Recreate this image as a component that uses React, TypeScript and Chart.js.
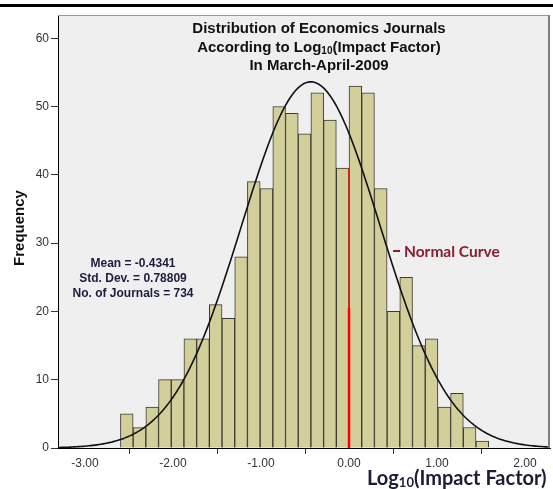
import React, { useEffect, useRef } from 'react';
import { Chart, registerables } from 'chart.js';

Chart.register(...registerables);

// ---- data ----
const FREQUENCIES = [5, 3, 6, 10, 10, 16, 16, 21, 19, 28, 39, 38, 50, 49, 46, 52, 48, 41, 53, 52, 38, 20, 25, 15, 16, 6, 8, 3, 1];
const BIN_WIDTH = 0.1443;
const FIRST_BIN_INDEX = -18; // bins are aligned so that an edge falls on 0
const MEAN = -0.4341;
const STD_DEV = 0.78809;
const N_JOURNALS = 734;
const X_TICKS = [-3, -2, -1, 0, 1, 2];
const Y_TICKS = [0, 10, 20, 30, 40, 50, 60];
const X_MIN = -3.307;
const X_MAX = 2.284;
const Y_MAX = 63.4;
const ZERO_LINE_FULL = 41;
const ZERO_LINE_STRONG = 20.5;
const TITLE_LINES = ['Distribution of Economics Journals', 'According to Log|10|(Impact Factor)', 'In March-April-2009'];
const STATS_LINES = ['Mean = -0.4341', 'Std. Dev. = 0.78809', `No. of Journals = ${N_JOURNALS}`];
const Y_TITLE = 'Frequency';
const X_TITLE = 'Log|10|(Impact Factor)';
const CURVE_LABEL = 'Normal Curve';

const W = 553;
const H = 489;

function drawRich(ctx: CanvasRenderingContext2D, text: string, x: number, y: number, font: string, subFont: string, subDy: number, align: 'center' | 'left') {
  const parts = text.split('|');
  const segs = parts.map((t, i) => ({ t, sub: i % 2 === 1 }));
  let total = 0;
  for (const s of segs) {
    ctx.font = s.sub ? subFont : font;
    total += ctx.measureText(s.t).width;
  }
  let cx = align === 'center' ? x - total / 2 : x;
  ctx.textAlign = 'left';
  ctx.textBaseline = 'alphabetic';
  for (const s of segs) {
    ctx.font = s.sub ? subFont : font;
    ctx.fillText(s.t, cx, s.sub ? y + subDy : y);
    cx += ctx.measureText(s.t).width;
  }
}

export default function App() {
  const ref = useRef<HTMLCanvasElement | null>(null);

  useEffect(() => {
    const canvas = ref.current;
    if (!canvas) return;

    const bars = FREQUENCIES.map((f, i) => ({ x: (FIRST_BIN_INDEX + i + 0.5) * BIN_WIDTH, y: f }));
    const peak = (N_JOURNALS * BIN_WIDTH) / (STD_DEV * Math.sqrt(2 * Math.PI));
    const curve: { x: number; y: number }[] = [];
    const steps = 240;
    for (let i = 0; i <= steps; i++) {
      const x = X_MIN + ((X_MAX - X_MIN) * i) / steps;
      const z = (x - MEAN) / STD_DEV;
      curve.push({ x, y: peak * Math.exp(-0.5 * z * z) });
    }

    const decor = {
      id: 'decor',
      beforeDraw(chart: any) {
        const ctx = chart.ctx as CanvasRenderingContext2D;
        const a = chart.chartArea;
        ctx.save();
        ctx.fillStyle = '#ffffff';
        ctx.fillRect(0, 0, W, H);
        ctx.fillStyle = '#efefef';
        ctx.fillRect(a.left, a.top, a.right - a.left, a.bottom - a.top);
        ctx.fillStyle = '#000000';
        ctx.fillRect(0, 4, W, 3);
        ctx.restore();
      },
      afterDraw(chart: any) {
        const ctx = chart.ctx as CanvasRenderingContext2D;
        const a = chart.chartArea;
        ctx.save();
        // frame top/right
        ctx.strokeStyle = '#9a9a9a';
        ctx.lineWidth = 1;
        ctx.beginPath();
        ctx.moveTo(a.left, a.top + 0.5);
        ctx.lineTo(a.right, a.top + 0.5);
        ctx.stroke();
        ctx.strokeStyle = '#808080';
        ctx.lineWidth = 2;
        ctx.beginPath();
        ctx.moveTo(a.right - 1, a.top);
        ctx.lineTo(a.right - 1, a.bottom);
        ctx.stroke();

        // title
        ctx.fillStyle = '#111111';
        const tx = (a.left + a.right) / 2 + 15;
        TITLE_LINES.forEach((line, i) => {
          drawRich(ctx, line, tx, 33 + i * 18.5, 'bold 15px "Liberation Sans", Arial, sans-serif', 'bold 10px "Liberation Sans", Arial, sans-serif', 2, 'center');
        });

        // stats
        ctx.fillStyle = '#1c1c40';
        STATS_LINES.forEach((line, i) => {
          drawRich(ctx, line, 133, 267 + i * 15, 'bold 12px "Liberation Sans", Arial, sans-serif', 'bold 9px "Liberation Sans"', 2, 'center');
        });

        // normal curve label
        ctx.fillStyle = '#8c1c2c';
        ctx.fillRect(393, 250, 7, 2);
        drawRich(ctx, CURVE_LABEL, 404, 257, 'bold 15.5px Lato, "Open Sans", sans-serif', 'bold 10px Lato', 2, 'left');

        // y title
        ctx.save();
        ctx.translate(24, 228);
        ctx.rotate(-Math.PI / 2);
        ctx.fillStyle = '#111111';
        drawRich(ctx, Y_TITLE, 0, 0, 'bold 15px "Liberation Sans", Arial, sans-serif', 'bold 10px "Liberation Sans"', 2, 'center');
        ctx.restore();

        // x title
        ctx.fillStyle = '#1c1c38';
        drawRich(ctx, X_TITLE, 367, 485, 'bold 20px Lato, "Open Sans", sans-serif', 'bold 13px Lato, "Open Sans", sans-serif', 2, 'left');
        ctx.restore();
      },
    };

    const chart = new Chart(canvas, {
      type: 'bar',
      data: {
        datasets: [
          {
            type: 'line',
            data: curve,
            borderColor: '#111111',
            borderWidth: 1.6,
            pointRadius: 0,
            tension: 0,
            order: 1,
          } as any,
          {
            type: 'line',
            data: [{ x: 0, y: 0 }, { x: 0, y: ZERO_LINE_STRONG }],
            borderColor: '#ff0000',
            borderWidth: 2.5,
            pointRadius: 0,
            order: 2,
          } as any,
          {
            type: 'line',
            data: [{ x: 0, y: 0 }, { x: 0, y: ZERO_LINE_FULL }],
            borderColor: '#e81010',
            borderWidth: 1.4,
            pointRadius: 0,
            order: 3,
          } as any,
          {
            type: 'bar',
            data: bars,
            backgroundColor: '#d3cf9b',
            borderColor: '#3a3a30',
            borderWidth: 1,
            borderSkipped: 'bottom',
            barPercentage: 1,
            categoryPercentage: 1,
            order: 4,
          } as any,
        ],
      },
      options: {
        animation: false,
        responsive: false,
        devicePixelRatio: 1,
        layout: { padding: { top: 15, right: 3, left: 0, bottom: 0 } },
        plugins: { legend: { display: false }, tooltip: { enabled: false }, title: { display: false } },
        scales: {
          x: {
            type: 'linear',
            min: X_MIN,
            max: X_MAX,
            offset: false,
            grid: { display: true, drawOnChartArea: false, drawTicks: true, tickLength: 6, color: '#333333' },
            border: { display: true, color: '#000000', width: 1 },
            ticks: {
              autoSkip: false,
              maxRotation: 0,
              padding: 2,
              color: '#333333',
              font: { family: '"Liberation Sans", Arial, sans-serif', size: 12 },
              callback: (v: any) => Number(v).toFixed(2),
            },
            afterBuildTicks: (s: any) => {
              s.ticks = X_TICKS.map((value) => ({ value }));
            },
            afterFit: (s: any) => {
              s.height = 41;
            },
          },
          y: {
            type: 'linear',
            min: 0,
            max: Y_MAX,
            grid: { display: true, drawOnChartArea: false, drawTicks: true, tickLength: 7, color: '#333333' },
            border: { display: true, color: '#000000', width: 1 },
            ticks: {
              padding: 2,
              color: '#333333',
              font: { family: '"Liberation Sans", Arial, sans-serif', size: 12 },
              callback: (v: any) => String(v),
            },
            afterBuildTicks: (s: any) => {
              s.ticks = Y_TICKS.map((value) => ({ value }));
            },
            afterFit: (s: any) => {
              s.width = 58;
            },
          },
        },
      },
      plugins: [decor],
    } as any);

    return () => chart.destroy();
  }, []);

  return (
    <div style={{ position: 'absolute', left: 0, top: 0, width: W, height: H }}>
      <canvas ref={ref} width={W} height={H} style={{ width: W, height: H, display: 'block' }} />
    </div>
  );
}
